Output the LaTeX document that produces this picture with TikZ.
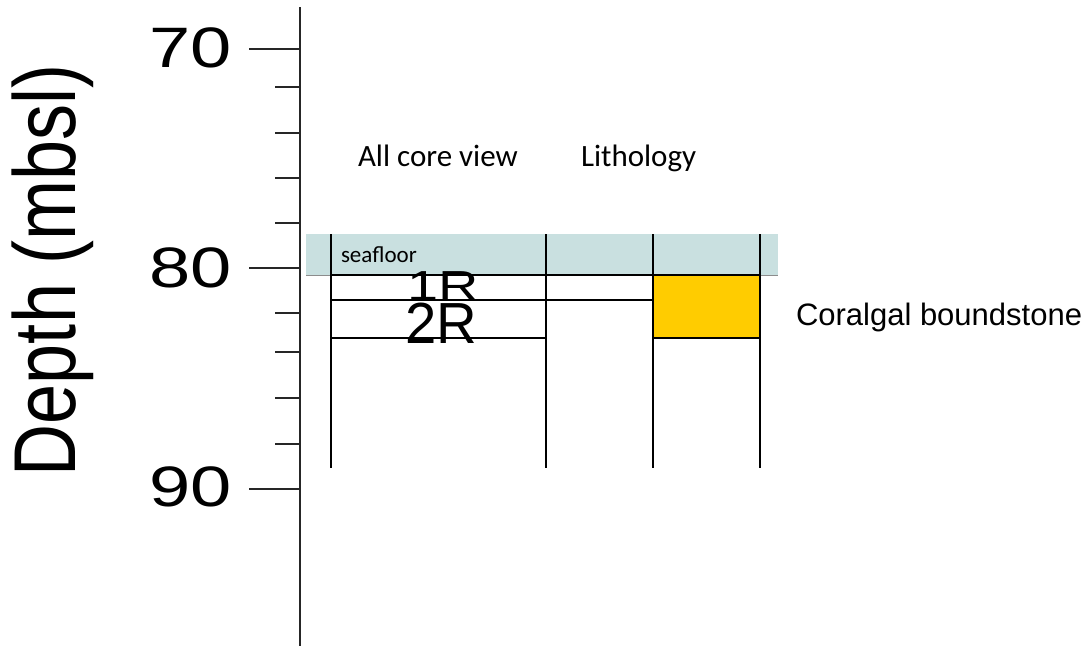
\documentclass[tikz,border=0pt]{standalone}
\usepackage{fontspec}
\setmainfont{Liberation Sans}
\newfontfamily\calib{Carlito}
\definecolor{seacol}{RGB}{201,224,224}
\definecolor{coral}{RGB}{255,204,0}
\begin{document}
\begin{tikzpicture}[x=1pt,y=-1pt,
  ax/.style={line width=1.6pt,black!85},
  col/.style={line width=1.5pt,black},
  lbl/.style={inner sep=0pt,outer sep=0pt},
]
\useasboundingbox (0,0) rectangle (1089,646);
% axis
\coordinate (atop) at (300,7);
\coordinate (abot) at (300,646);
\draw[ax] (atop) -- (abot);
\foreach \y in {49,268,489} \draw[ax] (249,\y) -- (300,\y);
\foreach \y in {87,133,178,223,313,352,398,444} \draw[ax] (275,\y) -- (300,\y);
\node[lbl] (t70) at (191,47.5) {\scalebox{1.3}[1]{\fontsize{57}{57}\selectfont 70}};
\node[lbl] (t80) at (191,268) {\scalebox{1.3}[1]{\fontsize{57}{57}\selectfont 80}};
\node[lbl] (t90) at (191,486.5) {\scalebox{1.3}[1]{\fontsize{57}{57}\selectfont 90}};
\node[lbl] (depth) at (53,270) {\scalebox{1.22}[1]{\rotatebox{90}{\fontsize{72}{72}\selectfont Depth (mbsl)}}};
% headers
\node[lbl,anchor=base west] (hcore) at (358,166) {\calib\fontsize{31}{31}\selectfont All core view};
\node[lbl,anchor=base west] (hlith) at (581,166) {\calib\fontsize{31}{31}\selectfont Lithology};
% seafloor band
\fill[seacol] (306,234) rectangle (778,275);
\draw[line width=1.5pt,black!45] (306,275.5) -- (778,275.5);
% coral box
\filldraw[fill=coral,draw=black,line width=1.5pt] (653,275) rectangle (760,338);
% horizontal lines
\draw[col] (331,275) -- (760,275);
\draw[col] (331,300) -- (653,300);
\draw[col] (331,338) -- (546,338);
% vertical columns
\foreach \x in {331,546,653,760} \draw[col] (\x,234) -- (\x,468);
% labels
\node[lbl,anchor=base west] (sea) at (341,262) {\calib\fontsize{23}{23}\selectfont seafloor};
\node[lbl] (c1) at (443,286) {\scalebox{1.33}[1]{\fontsize{42}{42}\selectfont 1R}};
\node[lbl] (c2) at (441.5,323) {\scalebox{0.97}[1]{\fontsize{58}{58}\selectfont 2R}};
\node[lbl,anchor=base west] (coral) at (796,325) {\fontsize{31}{31}\selectfont Coralgal boundstone};
\end{tikzpicture}
\end{document}
